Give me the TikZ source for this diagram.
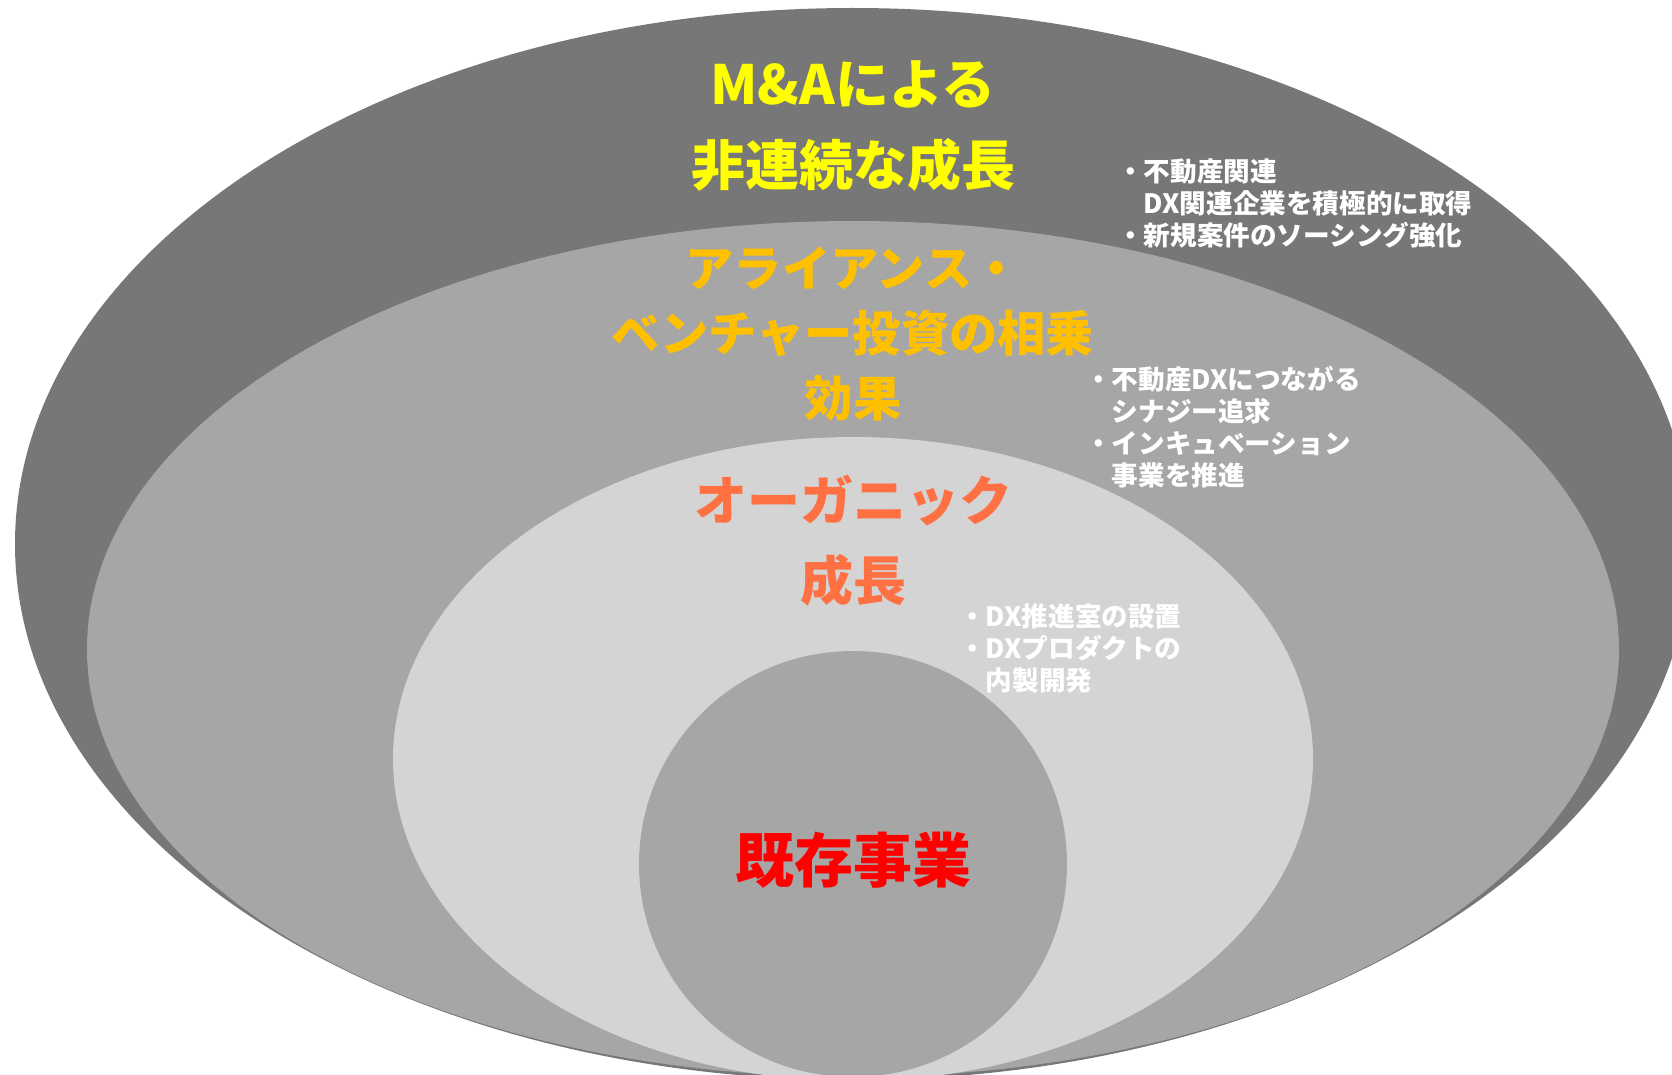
\documentclass[tikz,border=0pt]{standalone}
\usepackage{fontspec}
\setmainfont{Noto Sans CJK JP}
\definecolor{gdark}{HTML}{777777}
\definecolor{gmid}{HTML}{A6A6A6}
\definecolor{glight}{HTML}{D4D4D4}
\definecolor{cyellow}{HTML}{FFFF00}
\definecolor{corange}{HTML}{FFC000}
\definecolor{ccoral}{HTML}{FF7043}
\definecolor{cred}{HTML}{FF0000}
\tikzset{
  ttl/.style={align=center, inner sep=0pt, anchor=center},
  note/.style={align=left, inner sep=0pt, anchor=west, text=white,
    font=\fontsize{26.6}{32}\selectfont\bfseries},
}
\begin{document}
\begin{tikzpicture}[x=1pt,y=-1pt]
\useasboundingbox (0,0) rectangle (1672,1075);
\clip (0,0) rectangle (1672,1075);
\fill[gdark]  (853,544) ellipse [x radius=838pt, y radius=536pt];
\fill[gmid]   (853,649) ellipse [x radius=766pt, y radius=428pt];
\fill[glight] (853,759) ellipse [x radius=460pt, y radius=322pt];
\fill[gmid]   (853,864) ellipse [x radius=214pt, y radius=213pt];

\node[ttl, text=cyellow, font=\fontsize{54}{81}\selectfont\bfseries] (ma) at (853,126)
  {M\&Aによる\\非連続な成長};
\node[ttl, text=corange, font=\fontsize{48.3}{65}\selectfont\bfseries] (al) at (853,334)
  {アライアンス・\\ベンチャー投資の相乗\\効果};
\node[ttl, text=ccoral, font=\fontsize{53}{80}\selectfont\bfseries] (og) at (853,541)
  {オーガニック\\成長};
\node[ttl, text=cred, font=\fontsize{59}{72}\selectfont\bfseries] (ex) at (853,860)
  {既存事業};

\node[note] (n1) at (1117,203)
  {・不動産関連\\\hphantom{・}DX関連企業を積極的に取得\\・新規案件のソーシング強化};
\node[note] (n2) at (1085,427)
  {・不動産DXにつながる\\\hphantom{・}シナジー追求\\・インキュベーション\\\hphantom{・}事業を推進};
\node[note] (n3) at (959,648)
  {・DX推進室の設置\\・DXプロダクトの\\\hphantom{・}内製開発};
\end{tikzpicture}
\end{document}
